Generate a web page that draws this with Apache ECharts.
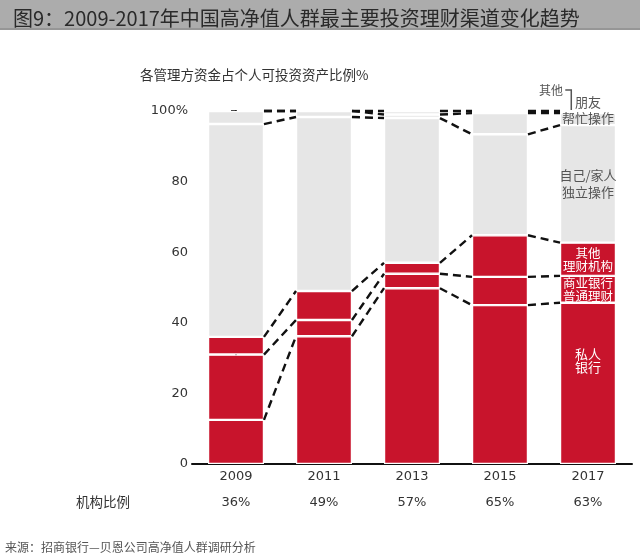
<!DOCTYPE html>
<html>
<head>
<meta charset="utf-8">
<script src="https://cdn.jsdelivr.net/npm/echarts@6/dist/echarts.min.js"></script>
<style>
  html, body { margin: 0; padding: 0; background: #fff; }
  #box { width: 640px; height: 557px; }
</style>
</head>
<body>
<div id="box"></div>
<script>
var years = ['2009', '2011', '2013', '2015', '2017'];
// segment values, bottom to top
var privateBank = [12.5, 36.2, 49.8, 45, 45.7];
var commercial = [18.5, 4.6, 4.1, 8, 7.6];
var otherInst = [5, 8.2, 3.1, 11.8, 9.4];
var selfOp = [60.3, 49.3, 41, 28.6, 33.3];
var friendOp = [3.7, 1.7, 1, 6, 3.4];
var others = [0, 0, 1, 0.6, 0.6];
var ratioLabels = ['36%', '49%', '57%', '65%', '63%'];

var red = '#c8142c';
var grey = '#e6e6e6';
var font = 'DejaVu Sans, Noto Sans CJK SC';
var cnFont = 'Noto Sans CJK SC';

var chartDom = document.getElementById('box');
var myChart = echarts.init(chartDom);

// label only on the last bar (2017); empty segments are skipped
function withLabel(values, label) {
  return values.map(function (v, i) {
    if (v === 0) return '-';
    if (i === values.length - 1 && label) {
      return { value: v, label: Object.assign({ show: true, fontFamily: cnFont, fontSize: 13 }, label) };
    }
    return v;
  });
}

var layers = [
  { name: '私人银行', data: privateBank, color: red,
    label: { formatter: '私人\n银行', color: '#fff', lineHeight: 13, position: 'inside', offset: [0, -23] } },
  { name: '商业银行普通理财', data: commercial, color: red,
    label: { formatter: '商业银行\n普通理财', color: '#fff', fontSize: 12.5, lineHeight: 13, position: 'inside' } },
  { name: '其他理财机构', data: otherInst, color: red,
    label: { formatter: '其他\n理财机构', color: '#fff', fontSize: 12.5, lineHeight: 13, position: 'inside' } },
  { name: '自己/家人独立操作', data: selfOp, color: grey,
    label: { formatter: '自己/家人\n独立操作', color: '#555', lineHeight: 17, position: 'inside' } },
  { name: '朋友帮忙操作', data: friendOp, color: grey,
    label: { formatter: '朋友\n帮忙操作', color: '#555', lineHeight: 16, position: 'inside', offset: [0, -9] } },
  { name: '其他', data: others, color: grey,
    label: { formatter: '其他', color: '#555', fontSize: 12, position: 'top', offset: [-37, -10] } }
];

var series = [];
layers.forEach(function (l) {
  series.push({
    name: l.name,
    type: 'bar',
    stack: 'all',
    xAxisIndex: 0,
    barWidth: '63.6%',
    itemStyle: { color: l.color, borderColor: '#fff', borderWidth: 1.2 },
    data: withLabel(l.data, l.label)
  });
});

// dashed connectors between the tops of each layer: [x1, y1, x2, y2]
var half = 0.318;
var links = [];
var cum = years.map(function () { return 0; });
layers.forEach(function (l) {
  cum = cum.map(function (c, i) { return c + l.data[i]; });
  for (var i = 0; i < years.length - 1; i++) {
    links.push([i + half, cum[i], i + 1 - half, cum[i + 1]]);
  }
});

series.push({
  type: 'custom',
  xAxisIndex: 2,
  silent: true,
  z: 5,
  encode: { x: [0, 2], y: [1, 3] },
  data: links,
  renderItem: function (params, api) {
    var a = api.coord([api.value(0), api.value(1)]);
    var b = api.coord([api.value(2), api.value(3)]);
    return {
      type: 'line',
      shape: { x1: a[0], y1: a[1], x2: b[0], y2: b[1] },
      style: { stroke: '#111', lineWidth: 2.4, lineDash: [8, 5], fill: null }
    };
  }
});

var option = {
  animation: false,
  title: [
    { text: '图9：2009-2017年中国高净值人群最主要投资理财渠道变化趋势', left: 8, top: 3,
      textStyle: { fontFamily: cnFont, fontSize: 20, fontWeight: 'normal', color: '#2a2a2a' } },
    { text: '各管理方资金占个人可投资资产比例%', left: 135, top: 63,
      textStyle: { fontFamily: cnFont, fontSize: 13.5, fontWeight: 'normal', color: '#333' } },
    { text: '来源：招商银行—贝恩公司高净值人群调研分析', left: 0, top: 536,
      textStyle: { fontFamily: cnFont, fontSize: 12, fontWeight: 'normal', color: '#555' } }
  ],
  graphic: [
    { type: 'rect', left: 0, top: 0, z: -10, shape: { width: 640, height: 30 },
      style: { fill: '#acacac' } },
    { type: 'rect', left: 0, top: 28, z: -9, shape: { width: 640, height: 2 },
      style: { fill: '#969696' } }
  ],
  grid: { left: 192, right: 8, top: 111, bottom: 93 },
  xAxis: [
    {
      type: 'category',
      data: years,
      axisLine: { lineStyle: { color: '#111', width: 2 } },
      axisTick: { show: false },
      axisLabel: { color: '#333', fontFamily: font, fontSize: 13, margin: 6 }
    },
    {
      type: 'category',
      data: ratioLabels,
      position: 'bottom',
      offset: 26,
      axisLine: { show: false },
      axisTick: { show: false },
      axisLabel: { color: '#333', fontFamily: font, fontSize: 13, margin: 6 },
      name: '机构比例',
      nameLocation: 'start',
      nameGap: 62,
      nameTextStyle: { color: '#333', fontFamily: cnFont, fontSize: 13.5, verticalAlign: 'top', padding: [5, 0, 0, 0] }
    },
    { type: 'value', min: -0.5, max: 4.5, show: false }
  ],
  yAxis: {
    type: 'value',
    min: 0,
    max: 100,
    interval: 20,
    splitLine: { show: false },
    axisLine: { show: true, lineStyle: { color: '#111', width: 2 } },
    axisTick: { show: true, length: 5, lineStyle: { color: '#111', width: 1.5 } },
    axisLabel: {
      color: '#333', fontFamily: font, fontSize: 13, margin: 4,
      formatter: function (v) { return v === 100 ? '100%' : v; }
    }
  },
  series: series
};

myChart.setOption(option);

// bracket from the "其他" label down to the top sliver of 2017
var p = myChart.convertToPixel({ xAxisIndex: 2, yAxisIndex: 0 }, [years.length - 1 - 0.19, 100]);
myChart.setOption({
  graphic: option.graphic.concat([{
    type: 'polyline', z: 10, silent: true,
    shape: { points: [[p[0] - 6, p[1] - 21], [p[0], p[1] - 21], [p[0], p[1] - 1]] },
    style: { stroke: '#555', lineWidth: 1.5, fill: null }
  }])
});
</script>
</body>
</html>
